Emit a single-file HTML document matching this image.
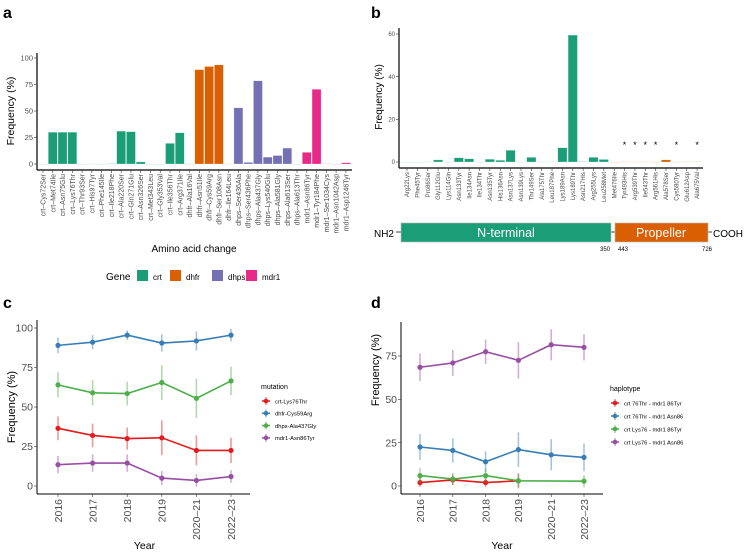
<!DOCTYPE html>
<html><head><meta charset="utf-8"><style>
body{margin:0;background:#fff}
svg{display:block;font-family:"Liberation Sans",sans-serif}
</style></head><body>
<svg id="fig" width="750" height="554" viewBox="0 0 750 554">
<text x="3" y="18" font-size="16" font-weight="bold">a</text>
<text x="371" y="18" font-size="16" font-weight="bold">b</text>
<text x="3" y="308" font-size="16" font-weight="bold">c</text>
<text x="371" y="308" font-size="16" font-weight="bold">d</text>
<g id="ga"></g>
<g id="gb"></g>
<g id="gc"></g>
<g id="gd"></g>
</svg>
<script>
// ---- Panel a data
const aCategories=["crt–Cys72Ser","crt–Met74Ile","crt–Asn75Glu","crt–Lys76Thr","crt–Thr93Ser","crt–His97Tyr","crt–Phe145Ile","crt–Ile218Phe","crt–Ala220Ser","crt–Gln271Glu","crt–Asn326Ser","crt–Met343Leu","crt–Gly353Val","crt–Ile356Thr","crt–Arg371Ile","dhfr–Ala16Val","dhfr–Asn51Ile","dhfr–Cys59Arg","dhfr–Ser108Asn","dhfr–Ile164Leu","dhps–Ser436Ala","dhps–Ser436Phe","dhps–Ala437Gly","dhps–Lys540Glu","dhps–Ala581Gly","dhps–Ala613Ser","dhps–Ala613Thr","mdr1–Asn86Tyr","mdr1–Tyr184Phe","mdr1–Ser1034Cys","mdr1–Asn1042Asp","mdr1–Asp1246Tyr"];
const aValues=[0,30,30,30,0,0.3,0,0.7,31,30.5,2,0,0,19.5,29.5,0.2,89,92,93.5,0.3,53,1.5,78.5,6.5,8,15,0,11,70.5,0.5,0,1.2];
const aTicks=[0,25,50,75,100];
const genes=["crt","dhfr","dhps","mdr1"];
const geneColors={crt:"#1b9e77",dhfr:"#d95f02",dhps:"#7570b3",mdr1:"#e7298a"};
// ---- Panel b data
const bCategories=["Arg22Lys","Phe45Tyr","Pro86Ser","Gly112Glu","Lys114Gln","Asn133Tyr","Ile134Asn","Ile134Thr","Asn135Tyr","His136Asn","Asn137Lys","Asn139Lys","Thr149Ser","Ala175Thr","Leu187Phe","Lys189Asn","Lys189Thr","Asn217His","Arg255Lys","Leu258Met","Met476Ile","Tyr493His","Arg539Thr","Ile543Thr","Arg561His","Ala578Ser","Cys580Tyr","Glu612Asp","Ala675Val"];
const bValues=[0,0,0.2,1,0.1,2,1.5,0.1,1.3,0.8,5.5,0.1,2.2,0.2,0.2,6.7,59.5,0.4,2.2,1.2,0,0.2,0.1,0.2,0.1,1,0.1,0.2,0.3];
const bDomain=["N","N","N","N","N","N","N","N","N","N","N","N","N","N","N","N","N","N","N","N","P","P","P","P","P","P","P","P","P"];
const bStar=[0,0,0,0,0,0,0,0,0,0,0,0,0,0,0,0,0,0,0,0,0,1,1,1,1,0,1,0,1];
const bTicks=[0,20,40,60];
// ---- Panel c data
const years=["2016","2017","2018","2019","2020–21","2022–23"];
const cSeries=["crt-Lys76Thr","dhfr-Cys59Arg","dhps-Ala437Gly","mdr1-Asn86Tyr"];
const cRed=[36.5,32,30,30.5,22.5,22.5];
const cRedErr=[7.5,7.5,7,11,9.5,8];
const cBlue=[89,91,95.5,90.5,91.8,95.5];
const cBlueErr=[5,4.5,3,5.5,6,4];
const cGreen=[64,59,58.5,65.5,55.5,66.5];
const cGreenErr=[8,8,7.5,11,12.5,9];
const cPurple=[13.5,14.5,14.5,5,3.5,6];
const cPurpleErr=[5.5,5.5,5.5,4.5,4,4];
const cTicks=[0,25,50,75,100];
// ---- Panel d data
const dSeries=["crt 76Thr - mdr1 86Tyr","crt 76Thr - mdr1 Asn86","crt Lys76 - mdr1 86Tyr","crt Lys76 - mdr1 Asn86"];
const dRed=[2,3.5,2,3,null,null];
const dRedErr=[2.5,3,2.5,4,null,null];
const dBlue=[22.5,20.5,14,21,18,16.5];
const dBlueErr=[7.5,7,6,10,9,8];
const dGreen=[6,4,6,3,null,2.8];
const dGreenErr=[4.5,3.5,4,4.5,null,3.5];
const dPurple=[68.5,71,77.5,72.5,81.5,80];
const dPurpleErr=[8,7.5,7,10.5,9,7.5];
const dTicks=[0,25,50,75];
const lineColors=["#e41a1c","#377eb8","#4daf4a","#984ea3"];

const NS="http://www.w3.org/2000/svg";
function mk(p,tag,attrs,txt){const e=document.createElementNS(NS,tag);for(const k in attrs)e.setAttribute(k,attrs[k]);if(txt!=null)e.textContent=txt;p.appendChild(e);return e;}

// ===== Panel a
(function(){
const g=document.getElementById('ga');
const x0=43,dx=9.77,bw=9,yZ=164,yT=58;
const y=v=>yZ-(yZ-yT)*v/100;
const xs=i=>x0+i*dx;
mk(g,'line',{x1:37,y1:53,x2:37,y2:170,stroke:'#000','stroke-width':1.2});
mk(g,'line',{x1:37,y1:170,x2:352,y2:170,stroke:'#000','stroke-width':1.2});
aTicks.forEach(t=>{
 const tk=mk(g,'text',{x:33,y:y(t)+2.7,'font-size':7.5,fill:'#4d4d4d','text-anchor':'end'},t);
 
 mk(g,'line',{x1:34,y1:y(t),x2:37,y2:y(t),stroke:'#333','stroke-width':0.6});
});
aCategories.forEach((c,i)=>{
 const gene=c.split('–')[0];const col=geneColors[gene];const v=aValues[i];
 const r=mk(g,'rect',{x:xs(i)-bw/2,y:y(v),width:bw,height:Math.max(yZ-y(v),0.6),fill:col,'fill-opacity':v<1?0.35:1,stroke:'#fff','stroke-opacity':0.5,'stroke-width':0.5});
 
 
 mk(g,'line',{x1:xs(i),y1:170,x2:xs(i),y2:173,stroke:'#333','stroke-width':0.6});
 const t=mk(g,'text',{x:0,y:0,'font-size':7,fill:'#4d4d4d','text-anchor':'end',transform:`translate(${xs(i)+2.5},174) rotate(-90)`},c);
 
});
const yl=mk(g,'text',{x:0,y:0,'font-size':10.5,fill:'#000','text-anchor':'middle',transform:'translate(14,111) rotate(-90)'},'Frequency (%)');

const xl=mk(g,'text',{x:194,y:252,'font-size':10,fill:'#000','text-anchor':'middle'},'Amino acid change');

const lt=mk(g,'text',{x:106,y:280,'font-size':10,fill:'#000'},'Gene');

const lx=[137,170,212,246];
genes.forEach((gn,i)=>{
 const r=mk(g,'rect',{x:lx[i],y:270,width:11,height:11,fill:geneColors[gn]});
 
 const t=mk(g,'text',{x:lx[i]+16,y:280,'font-size':8,fill:'#000'},gn);
 
});
})();

// ===== Panel b
(function(){
const g=document.getElementById('gb');
const x0=407,dx=10.36,bw=9.3,yZ=162,yT=34;
const y=v=>yZ-(yZ-yT)*v/60;
const xs=i=>x0+i*dx;
mk(g,'line',{x1:399,y1:28,x2:399,y2:168,stroke:'#000','stroke-width':1.2});
mk(g,'line',{x1:399,y1:168,x2:703,y2:168,stroke:'#000','stroke-width':1.2});
bTicks.forEach(t=>{
 const tk=mk(g,'text',{x:395,y:y(t)+2.2,'font-size':6,fill:'#4d4d4d','text-anchor':'end'},t);
 
 mk(g,'line',{x1:396,y1:y(t),x2:399,y2:y(t),stroke:'#333','stroke-width':0.6});
});
bCategories.forEach((c,i)=>{
 const col=bDomain[i]==='N'?'#1b9e77':'#d95f02';const v=bValues[i];
 const r=mk(g,'rect',{x:xs(i)-bw/2,y:y(v),width:bw,height:Math.max(yZ-y(v),0.6),fill:col,'fill-opacity':v<0.5?0.35:1,stroke:'#fff','stroke-opacity':0.5,'stroke-width':0.5});
 
 
 mk(g,'line',{x1:xs(i),y1:168,x2:xs(i),y2:171,stroke:'#333','stroke-width':0.6});
 const t=mk(g,'text',{x:0,y:0,'font-size':6,fill:'#4d4d4d','text-anchor':'end',transform:`translate(${xs(i)+2.1},172) rotate(-90)`},c);
 
 if(bStar[i]){const s=mk(g,'text',{x:xs(i),y:148,'font-size':9,fill:'#000','text-anchor':'middle'},'*');
  }
});
const yl=mk(g,'text',{x:0,y:0,'font-size':10,fill:'#000','text-anchor':'middle',transform:'translate(382,97) rotate(-90)'},'Frequency (%)');

mk(g,'line',{x1:396,y1:232,x2:712,y2:232,stroke:'#000','stroke-width':0.8});
const n=mk(g,'rect',{x:401,y:223,width:210,height:19,fill:'#1b9e77',stroke:'#bbb','stroke-width':0.6});

const p=mk(g,'rect',{x:615,y:223,width:93,height:19,fill:'#d95f02',stroke:'#bbb','stroke-width':0.6});

[['N-terminal',506,'n-terminal-label'],['Propeller',661,'propeller-label']].forEach(a=>{
 const t=mk(g,'text',{x:a[1],y:237,'font-size':12.5,fill:'#fff','text-anchor':'middle'},a[0]);
 });
const nh=mk(g,'text',{x:394,y:237,'font-size':10,fill:'#000','text-anchor':'end'},'NH2');

const co=mk(g,'text',{x:713,y:237,'font-size':10,fill:'#000'},'COOH');

[['350',605],['443',623],['726',707]].forEach(a=>{
 const t=mk(g,'text',{x:a[1],y:251,'font-size':6,fill:'#000','text-anchor':'middle'},a[0]);
 });
})();

// ===== Line panels
function linePanel(gid,o){
 const g=document.getElementById(gid);
 const y=v=>o.yZ-(o.yZ-o.yRef)*v/o.vRef;
 const xs=i=>o.x0+i*o.dx;
 mk(g,'line',{x1:o.ax,y1:o.top,x2:o.ax,y2:o.bot,stroke:'#000','stroke-width':1});
 mk(g,'line',{x1:o.ax,y1:o.bot,x2:o.right,y2:o.bot,stroke:'#000','stroke-width':1});
 o.ticks.forEach(t=>{
  const tk=mk(g,'text',{x:o.ax-4,y:y(t)+3.6,'font-size':10.5,fill:'#4d4d4d','text-anchor':'end'},t);
  
  mk(g,'line',{x1:o.ax-3,y1:y(t),x2:o.ax,y2:y(t),stroke:'#333','stroke-width':0.6});
 });
 years.forEach((yr,i)=>{
  mk(g,'line',{x1:xs(i),y1:o.bot,x2:xs(i),y2:o.bot+3,stroke:'#333','stroke-width':0.6});
  const t=mk(g,'text',{x:0,y:0,'font-size':10.5,fill:'#4d4d4d','text-anchor':'end',transform:`translate(${xs(i)+3.8},${o.bot+5}) rotate(-90)`},yr);
  
 });
 const yl=mk(g,'text',{x:0,y:0,'font-size':11,fill:'#000','text-anchor':'middle',transform:`translate(${o.ax-22},${o.ylY}) rotate(-90)`},'Frequency (%)');
 
 const xl=mk(g,'text',{x:(o.x0+xs(5))/2,y:549,'font-size':10.5,fill:'#000','text-anchor':'middle'},'Year');
 
 o.series.forEach((s,k)=>{
  const col=lineColors[k];let d='';
  s.vals.forEach((v,i)=>{if(v==null)return;d+=(d?'L':'M')+xs(i)+','+y(v);});
  const pth=mk(g,'path',{d:d,fill:'none',stroke:col,'stroke-width':1.6});
  
  
  s.vals.forEach((v,i)=>{if(v==null)return;
   mk(g,'line',{x1:xs(i),y1:y(v-s.err[i]),x2:xs(i),y2:y(v+s.err[i]),stroke:col,'stroke-opacity':0.45,'stroke-width':1.6});
   const c=mk(g,'circle',{cx:xs(i),cy:y(v),r:2.6,fill:col});
   
  });
 });
 const lt=mk(g,'text',{x:o.lx,y:o.ly,'font-size':7,fill:'#000'},o.ltitle);
 
 o.series.forEach((s,k)=>{
  const yy=o.ly+12+k*o.lstep;
  mk(g,'line',{x1:o.lx+1,y1:yy,x2:o.lx+9,y2:yy,stroke:lineColors[k],'stroke-width':1.5});
  mk(g,'line',{x1:o.lx+5,y1:yy-4,x2:o.lx+5,y2:yy+4,stroke:lineColors[k],'stroke-opacity':0.5,'stroke-width':1.5});
  const c=mk(g,'circle',{cx:o.lx+5,cy:yy,r:2.3,fill:lineColors[k]});
  
  const t=mk(g,'text',{x:o.lx+14,y:yy+2.3,'font-size':5.8,fill:'#000'},s.name);
  
 });
}
linePanel('gc',{ax:37,top:320,bot:494,right:250,x0:58,dx:34.6,yZ:486,yRef:328,vRef:100,ticks:cTicks,ylY:407,
 lx:261,ly:389,lstep:12.3,ltitle:'mutation',
 series:[{name:cSeries[0],vals:cRed,err:cRedErr},{name:cSeries[1],vals:cBlue,err:cBlueErr},{name:cSeries[2],vals:cGreen,err:cGreenErr},{name:cSeries[3],vals:cPurple,err:cPurpleErr}]});
linePanel('gd',{ax:401,top:322,bot:494,right:603,x0:420,dx:32.8,yZ:486,yRef:356,vRef:75,ticks:dTicks,ylY:370,
 lx:610,ly:391,lstep:13,ltitle:'haplotype',
 series:[{name:dSeries[0],vals:dRed,err:dRedErr},{name:dSeries[1],vals:dBlue,err:dBlueErr},{name:dSeries[2],vals:dGreen,err:dGreenErr},{name:dSeries[3],vals:dPurple,err:dPurpleErr}]});
</script>
</body></html>
